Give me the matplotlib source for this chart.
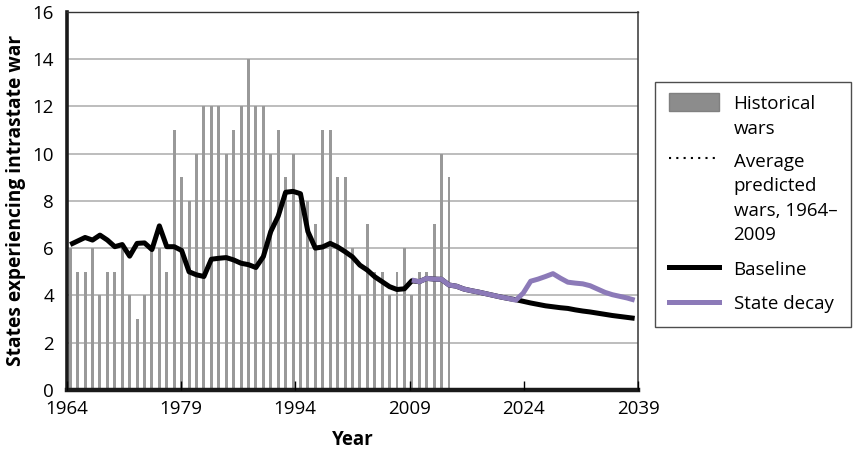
import numpy as np
import matplotlib.pyplot as plt
from matplotlib.lines import Line2D
from matplotlib.patches import Patch
from matplotlib.transforms import Affine2D
from matplotlib.legend_handler import HandlerLine2D, HandlerPatch

plt.rcParams['font.family'] = ['Open Sans', 'DejaVu Sans']

# historical wars per year, 1964-2015
hist_years = list(range(1964, 2016))
hist_wars = [6, 5, 5, 6, 4, 5, 5, 6, 4, 3, 4, 6, 6, 5, 11, 9, 8, 10, 12, 12,
             12, 10, 11, 12, 14, 12, 12, 10, 11, 9, 10, 8, 8, 7, 11, 11, 9, 9,
             6, 4, 7, 5, 5, 4, 5, 6, 4, 5, 5, 7, 10, 9]

# baseline model, 1964-2040
base_years = list(range(1964, 2041))
baseline = [6.15, 6.3, 6.45, 6.34, 6.55, 6.34, 6.06, 6.15, 5.66, 6.2, 6.22,
            5.94, 6.94, 6.06, 6.06, 5.9, 5.0, 4.87, 4.8, 5.53, 5.57, 5.6, 5.5,
            5.36, 5.3, 5.18, 5.64, 6.7, 7.35, 8.36, 8.4, 8.3, 6.7, 6.0, 6.05,
            6.2, 6.05, 5.85, 5.63, 5.28, 5.07, 4.79, 4.58, 4.37, 4.25, 4.28,
            4.62, 4.58, 4.72, 4.69, 4.68, 4.44, 4.39, 4.27, 4.2, 4.14, 4.07,
            4.0, 3.93, 3.87, 3.82, 3.75, 3.68, 3.62, 3.56, 3.52, 3.48, 3.45,
            3.39, 3.34, 3.3, 3.25, 3.2, 3.15, 3.11, 3.07, 3.03]

# state decay scenario, 2010-2040
decay_years = list(range(2010, 2041))
decay = [4.65, 4.58, 4.72, 4.69, 4.68, 4.44, 4.39, 4.27, 4.2, 4.14, 4.07,
         4.0, 3.93, 3.87, 3.8, 4.1, 4.6, 4.69, 4.8, 4.92, 4.73, 4.56, 4.52,
         4.49, 4.41, 4.27, 4.13, 4.03, 3.96, 3.89, 3.8]

year_ticks = [1964, 1979, 1994, 2009, 2024, 2039]
first_cat, n_cat = 1964, 77

bar_col = '#999999'
purple = '#8c7ab8'
lsp = 1.45
line_step = 17.3 * lsp / 1.4  # legend text line step, points


class ShiftLine(HandlerLine2D):
    def __init__(self, dy, **kw):
        super().__init__(**kw)
        self.dy = dy

    def create_artists(self, legend, orig_handle, xdescent, ydescent,
                       width, height, fontsize, trans):
        trans = Affine2D().translate(0, self.dy) + trans
        return super().create_artists(legend, orig_handle, xdescent, ydescent,
                                      width, height, fontsize, trans)


class ShiftPatch(HandlerPatch):
    def __init__(self, dy, **kw):
        super().__init__(**kw)
        self.dy = dy

    def create_artists(self, legend, orig_handle, xdescent, ydescent,
                       width, height, fontsize, trans):
        trans = Affine2D().translate(0, self.dy) + trans
        return super().create_artists(legend, orig_handle, xdescent, ydescent,
                                      width, height, fontsize, trans)


fig = plt.figure(figsize=(8.54, 4.5), dpi=100)
ax = fig.add_axes([0.0779, 0.1333, 0.6696, 0.8409])

# data on a category axis (one slot per year)
ax.bar(np.array(hist_years) - first_cat, hist_wars, width=0.4,
       color=bar_col, zorder=1)
ax.plot(np.array(base_years) - first_cat, baseline, color='black', lw=3.6,
        solid_capstyle='butt', solid_joinstyle='round', zorder=2)
ax.plot(np.array(decay_years) - first_cat, decay, color=purple, lw=3.6,
        solid_capstyle='butt', solid_joinstyle='round', zorder=3)
ax.set_xlim(-0.5, n_cat - 0.5)
ax.set_ylim(0, 16)
ax.set_yticks(range(0, 17, 2))
ax.yaxis.grid(True, color='#b8b8b8', lw=1.3)
ax.set_axisbelow(True)
ax.set_xticks([])
ax.tick_params(axis='y', length=0, pad=9, labelsize=13.5)

ax.spines['left'].set_linewidth(2.6)
ax.spines['left'].set_color('#1a1a1a')
ax.spines['bottom'].set_linewidth(3.2)
ax.spines['bottom'].set_color('#1a1a1a')
ax.spines['top'].set_linewidth(1.0)
ax.spines['top'].set_color('#333333')
ax.spines['right'].set_linewidth(1.2)
ax.spines['right'].set_color('#444444')

ax.set_ylabel('States experiencing intrastate war', fontsize=13.8,
              fontweight='bold', labelpad=5)

# year scale drawn at the bottom
axy = ax.twiny()
axy.set_xlim(1964, 2039)
axy.set_xticks(year_ticks)
axy.xaxis.set_ticks_position('bottom')
axy.xaxis.set_label_position('bottom')
axy.tick_params(axis='x', direction='in', length=6.5, width=1,
                color='black', pad=7, labelsize=13.5)
for s in axy.spines.values():
    s.set_visible(False)
axy.set_xlabel('Year', fontsize=13.5, fontweight='bold', labelpad=9)

h_hist = Patch(facecolor='#8c8c8c', edgecolor='#808080')
h_avg = Line2D([], [], color='black', lw=1.5, ls=(0, (1, 2.5)))
h_base = Line2D([], [], color='black', lw=3.6)
h_decay = Line2D([], [], color=purple, lw=3.6)
labels = ['Historical\nwars', 'Average\npredicted\nwars, 1964–\n2009',
          'Baseline', 'State decay']
hmap = {h_hist: ShiftPatch(1 * line_step), h_avg: ShiftLine(3 * line_step),
        h_base: ShiftLine(0), h_decay: ShiftLine(0)}
leg = fig.legend([h_hist, h_avg, h_base, h_decay], labels, loc='upper left',
                 bbox_to_anchor=(0.767, 0.818), borderaxespad=0,
                 handler_map=hmap,
                 fontsize=13.5, frameon=True, fancybox=False,
                 edgecolor='#222222', handlelength=2.67, handleheight=1.1,
                 handletextpad=0.8, labelspacing=0.82, borderpad=0.72)
leg.get_frame().set_linewidth(1.0)
for t in leg.get_texts():
    t.set_linespacing(lsp)
# align handles on the last text line, then the handlers shift them up
for col in leg._legend_handle_box.get_children():
    for row in col.get_children():
        for child in row.get_children():
            if hasattr(child, '_multilinebaseline'):
                child._multilinebaseline = False

fig.savefig('out.png', dpi=100)
